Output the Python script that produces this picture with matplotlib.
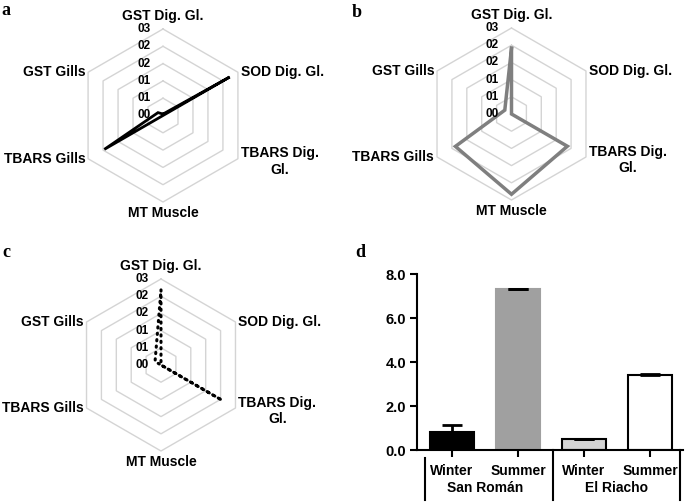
import numpy as np
import matplotlib
matplotlib.use("Agg")
import matplotlib.pyplot as plt

plt.rcParams['font.family'] = ['Liberation Sans', 'DejaVu Sans']
plt.rcParams['font.weight'] = 'bold'

# ---------------- data ----------------
categories = ["GST Dig. Gl.", "SOD Dig. Gl.", "TBARS Dig.\nGl.", "MT Muscle", "TBARS Gills", "GST Gills"]
ring_values = [0.0, 0.6, 1.2, 1.8, 2.4, 3.0]
ring_labels = ["00", "01", "01", "02", "02", "03"]

radar_a = [0.05, 2.67, 0.0, 0.0, 2.35, 0.20]
radar_b = [2.29, 0.0, 2.25, 2.80, 2.26, 0.27]
radar_c = [2.62, 0.0, 2.46, 0.0, 0.0, 0.24]

bar_labels = ["Winter", "Summer", "Winter", "Summer"]
bar_values = [0.83, 7.33, 0.49, 3.40]
bar_errors = [0.30, 0.02, 0.03, 0.06]
site_labels = ["San Román", "El Riacho"]
y_ticks = [0.0, 2.0, 4.0, 6.0, 8.0]

W, H = 685, 503
fig = plt.figure(figsize=(W / 100, H / 100), dpi=100)


def polar_rect(cx, cy, r):
    return [(cx - r) / W, 1 - (cy + r) / H, 2 * r / W, 2 * r / H]


n = len(categories)
theta = np.deg2rad(np.arange(n) * 360.0 / n)
theta_closed = np.append(theta, theta[0])

# label placement: (ha, va, dx, dy) offsets in points
label_style = [
    ("center", "bottom", 0, 4),
    ("left", "center", 2, 0),
    ("left", "center", 2, -2),
    ("center", "top", 0, -3),
    ("right", "center", -2, 0),
    ("right", "center", -2, 0),
]


def radar(cx, cy, r, values, color, ls, lw, capstyle="butt"):
    ax = fig.add_axes(polar_rect(cx, cy, r), projection="polar")
    ax.set_theta_zero_location("N")
    ax.set_theta_direction(-1)
    ax.set_ylim(0, 3.0)
    ax.grid(False)
    ax.set_xticks([])
    ax.set_yticks([])
    ax.spines["polar"].set_visible(False)
    ax.patch.set_alpha(0)
    for v in ring_values[1:]:
        ax.plot(theta_closed, [v] * (n + 1), color="#d4d4d4", lw=1.0, zorder=1, clip_on=False)
    vals = np.append(values, values[0])
    ax.plot(theta_closed, vals, color=color, ls=ls, lw=lw, zorder=3, clip_on=False,
            solid_joinstyle="miter", dash_capstyle=capstyle)
    for v, lab in zip(ring_values, ring_labels):
        ax.annotate(lab, xy=(0, v), xytext=(-9, 0), textcoords="offset points",
                    ha="right", va="center", fontsize=8.5, fontweight="bold", zorder=4)
    for t, lab, (ha, va, dx, dy) in zip(theta, categories, label_style):
        ax.annotate(lab, xy=(t, 3.0), xytext=(dx, dy), textcoords="offset points",
                    ha=ha, va=va, multialignment="center", fontsize=10, fontweight="bold",
                    annotation_clip=False)
    return ax


radar(163, 115.5, 86.5, radar_a, "black", "-", 2.0)
radar(511.5, 114, 86, radar_b, "#7f7f7f", "-", 2.5)
radar(161, 365, 86, radar_c, "black", (0, (0.4, 1.7)), 2.2, capstyle="round")

# ---------------- bar chart ----------------
left_px, right_px, top_px, bot_px = 417, 683, 274.3, 450
axd = fig.add_axes([left_px / W, 1 - bot_px / H, (right_px - left_px) / W, (bot_px - top_px) / H])
x = np.arange(len(bar_values))
colors = ["black", "#a0a0a0", "#d4d4d4", "white"]
edges = ["black", "#a0a0a0", "black", "black"]
axd.bar(x, bar_values, width=0.68, color=colors, edgecolor=edges, linewidth=1.5, zorder=2)
axd.errorbar(x, bar_values, yerr=[np.zeros(len(bar_errors)), bar_errors], fmt="none",
             ecolor="black", elinewidth=2, capsize=7.5, capthick=2, zorder=3)
axd.set_xlim(-0.53, 3.5)
axd.set_ylim(0, 8)
axd.set_yticks(y_ticks)
axd.set_yticklabels([f"{v:.1f}" for v in y_ticks], fontsize=10.5, fontweight="bold")
axd.set_xticks(x)
axd.set_xticklabels(bar_labels, fontsize=10, fontweight="bold")
axd.tick_params(axis="both", direction="out", length=5, width=1.5, color="black", pad=3)
axd.tick_params(axis="x", pad=5)
for s in ["top", "right"]:
    axd.spines[s].set_visible(False)
for s in ["left", "bottom"]:
    axd.spines[s].set_linewidth(1.5)

trans = axd.get_xaxis_transform()
px_h = bot_px - top_px
sep_x = [-0.41, 1.53, 3.45]
sep_top = [-8 / px_h, 0, 0]
for sx, st in zip(sep_x, sep_top):
    axd.plot([sx, sx], [st, -50 / px_h], transform=trans, color="black", lw=1.5, clip_on=False)
for i, lab in enumerate(site_labels):
    axd.annotate(lab, xy=(2 * i + 0.5, 0), xycoords=trans, xytext=(0, -27),
                 textcoords="offset points", ha="center", va="center",
                 fontsize=10, fontweight="bold", annotation_clip=False)

# ---------------- panel letters ----------------
serif = dict(family=["Liberation Serif", "DejaVu Serif"], fontsize=13, fontweight="bold", va="baseline")
fig.text(1 / W, 1 - 15 / H, "a", **serif)
fig.text(352 / W, 1 - 17 / H, "b", **serif)
fig.text(2 / W, 1 - 257 / H, "c", **serif)
fig.text(355 / W, 1 - 257 / H, "d", **serif)

fig.savefig("out.png", dpi=100)
